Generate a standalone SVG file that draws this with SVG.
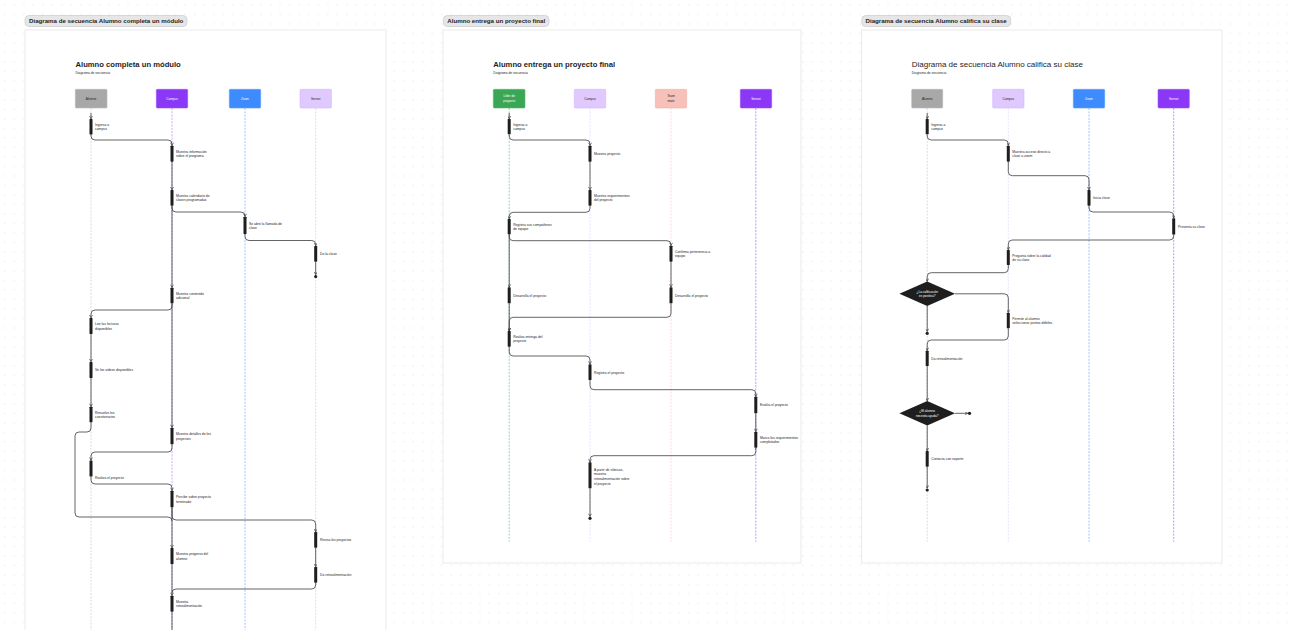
<svg xmlns="http://www.w3.org/2000/svg" width="1293" height="630" viewBox="0 0 1293 630">
<style>
text{font-family:"Liberation Sans",Arial,sans-serif;fill:#1e1e1e}
.tab{font-size:6.15px;font-weight:bold}
.ttl{font-size:7.65px;font-weight:bold}
.ttr{font-size:8px}
.sub{font-size:3.3px}
.lbl{font-size:3.4px}
.pt{font-size:3.1px;text-anchor:middle}
.wt{fill:#ffffff}
.dt{font-size:3.1px;text-anchor:middle;fill:#ffffff}
.bar{fill:#1e1e1e}
.cn{fill:none;stroke:#3d3d3d;stroke-width:0.8;marker-end:url(#ah)}
.cn0{fill:none;stroke:#3d3d3d;stroke-width:0.8}
.ll{fill:none;stroke-width:0.75;stroke-dasharray:2 1.3}
.frame{fill:#ffffff;stroke:#e6e6e6;stroke-width:0.8}
.tabr{fill:#e6e6e6;stroke:#c4c4c4;stroke-width:0.6}
.box{stroke-width:0.6}
.dot{fill:#1e1e1e}
</style>
<defs>
<pattern id="grid" width="9.5" height="9.5" patternUnits="userSpaceOnUse">
<circle cx="4.75" cy="4.75" r="0.55" fill="#d4d4d4"/>
</pattern>
<marker id="ah" viewBox="0 0 6 6" refX="5.5" refY="3" markerWidth="3.4" markerHeight="3.4" orient="auto" markerUnits="userSpaceOnUse">
<path d="M0.6 0.4 L5.5 3 L0.6 5.6" fill="none" stroke="#333" stroke-width="1.1"/>
</marker>
</defs>
<rect width="1293" height="630" fill="#ffffff"/>
<rect width="1293" height="630" fill="url(#grid)"/>

<!-- ===== Frame 1 ===== -->
<g id="frame1">
<rect class="frame" x="25" y="30" width="361" height="620"/>
<rect class="tabr" x="25" y="15.5" width="162" height="11" rx="4"/>
<text class="tab" x="29" y="23.3">Diagrama de secuencia Alumno completa un módulo</text>
<text class="ttl" x="75.5" y="66.6">Alumno completa un módulo</text>
<text class="sub" x="75.5" y="73.6">Diagrama de secuencia</text>
</g>
<g id="f1-lifelines">
<line class="ll" x1="91" y1="108" x2="91" y2="630" stroke="#cfcfcf"/>
<line class="ll" x1="172" y1="108" x2="172" y2="630" stroke="#b98cff"/>
<line class="ll" x1="245" y1="108" x2="245" y2="630" stroke="#7fb0ff"/>
<line class="ll" x1="315.7" y1="108" x2="315.7" y2="630" stroke="#dcc8ff"/>
</g>
<g id="f1-connectors">
<path class="cn" d="M91 113 V118.8"/>
<path class="cn" d="M91 134.5 V136 Q91 140 95 140 H168 Q172 140 172 144 V145.5"/>
<path class="cn" d="M172 161.7 V189.8"/>
<path class="cn" d="M172 205.7 V208 Q172 212 176 212 H241 Q245 212 245 216 V216.5"/>
<path class="cn" d="M245 234 V236.5 Q245 240.5 249 240.5 H311.7 Q315.7 240.5 315.7 244.5 V245.8"/>
<path class="cn" d="M315.7 261.7 V274.7"/>
<path class="cn" d="M172 205.7 V287.5"/>
<path class="cn" d="M172 303.3 V306 Q172 310 168 310 H95 Q91 310 91 314 V317.8"/>
<path class="cn" d="M91 334 V361.8"/>
<path class="cn" d="M91 378 V406.5"/>
<path class="cn0" d="M91 422.3 V428 Q91 432 87 432 H79 Q75 432 75 436 V513 Q75 517 79 517 H168 Q172 517 172 521"/>
<path class="cn" d="M172 303.3 V427.5"/>
<path class="cn" d="M172 444.3 V448 Q172 452 168 452 H95 Q91 452 91 456 V460.3"/>
<path class="cn" d="M91 476.5 V480 Q91 484 95 484 H168 Q172 484 172 488 V490.5"/>
<path class="cn" d="M172 507.3 V516 Q172 520 176 520 H311.7 Q315.7 520 315.7 524 V531.8"/>
<path class="cn" d="M172 507.3 V547.8"/>
<path class="cn" d="M315.7 547.7 V566.8"/>
<path class="cn" d="M315.7 582.7 V585 Q315.7 589 311.7 589 H176 Q172 589 172 593 V595.5"/>
<path class="cn0" d="M172 564 V593"/>
<path class="cn0" d="M172 611.7 V632"/>
</g>
<g id="f1-alumno"><rect class="box" x="75.3" y="89.3" width="31.7" height="18.7" rx="1" fill="#a8a8a8" stroke="#b8b8b8"/><text class="pt" x="91.1" y="99.8">Alumno</text></g>
<g id="f1-campus"><rect class="box" x="156.3" y="89.3" width="31.4" height="18.7" rx="1" fill="#8a38f5" stroke="#9a55f7"/><text class="pt wt" x="172" y="99.8">Campus</text></g>
<g id="f1-zoom"><rect class="box" x="229.3" y="89.3" width="31.4" height="18.7" rx="1" fill="#3d8bfd" stroke="#5a9dfd"/><text class="pt wt" x="245" y="99.8">Zoom</text></g>
<g id="f1-sensei"><rect class="box" x="300" y="89.3" width="31.4" height="18.7" rx="1" fill="#e0c9ff" stroke="#d2b5ff"/><text class="pt" x="315.7" y="99.8">Sensei</text></g>
<g id="f1-a1"><rect class="bar" x="89.5" y="119" width="3" height="15.5" rx="0.6"/><text class="lbl" x="95" y="125.9">Ingresa a</text><text class="lbl" x="95" y="130.2">campus</text></g>
<g id="f1-a2"><rect class="bar" x="170.5" y="145.7" width="3" height="16" rx="0.6"/><text class="lbl" x="176" y="152.9">Muestra información</text><text class="lbl" x="176" y="157.2">sobre el programa</text></g>
<g id="f1-a3"><rect class="bar" x="170.5" y="190" width="3" height="15.7" rx="0.6"/><text class="lbl" x="176" y="197">Muestra calendario de</text><text class="lbl" x="176" y="201.3">clases programadas</text></g>
<g id="f1-a4"><rect class="bar" x="243.5" y="216.7" width="3" height="17.3" rx="0.6"/><text class="lbl" x="249" y="224.5">Se abre la llamada de</text><text class="lbl" x="249" y="228.8">clase</text></g>
<g id="f1-a5"><rect class="bar" x="314.2" y="246" width="3" height="15.7" rx="0.6"/><text class="lbl" x="320" y="255">Da la clase</text></g>
<g id="f1-end1"><circle class="dot" cx="315.7" cy="276.6" r="1.6"/></g>
<g id="f1-a6"><rect class="bar" x="170.5" y="287.7" width="3" height="15.6" rx="0.6"/><text class="lbl" x="176" y="294.7">Muestra contenido</text><text class="lbl" x="176" y="299">adicional</text></g>
<g id="f1-a7"><rect class="bar" x="89.5" y="318" width="3" height="16" rx="0.6"/><text class="lbl" x="95" y="325.2">Lee las lecturas</text><text class="lbl" x="95" y="329.5">disponibles</text></g>
<g id="f1-a8"><rect class="bar" x="89.5" y="362" width="3" height="16" rx="0.6"/><text class="lbl" x="95" y="371.2">Ve los videos disponibles</text></g>
<g id="f1-a9"><rect class="bar" x="89.5" y="406.7" width="3" height="15.6" rx="0.6"/><text class="lbl" x="95" y="413.7">Resuelve los</text><text class="lbl" x="95" y="418">cuestionarios</text></g>
<g id="f1-a10"><rect class="bar" x="170.5" y="427.7" width="3" height="16.6" rx="0.6"/><text class="lbl" x="176" y="435.2">Muestra detalles de los</text><text class="lbl" x="176" y="439.5">proyectos</text></g>
<g id="f1-a11"><rect class="bar" x="89.5" y="460.5" width="3" height="16" rx="0.6"/><text class="lbl" x="95" y="479.4">Realiza el proyecto</text></g>
<g id="f1-a12"><rect class="bar" x="170.5" y="490.7" width="3" height="16.6" rx="0.6"/><text class="lbl" x="176" y="498.2">Percibe sobre proyecto</text><text class="lbl" x="176" y="502.5">terminado</text></g>
<g id="f1-a13"><rect class="bar" x="170.5" y="548" width="3" height="16" rx="0.6"/><text class="lbl" x="176" y="555.2">Muestra progreso del</text><text class="lbl" x="176" y="559.5">alumno</text></g>
<g id="f1-a14"><rect class="bar" x="314.2" y="532" width="3" height="15.7" rx="0.6"/><text class="lbl" x="320" y="541">Revisa los proyectos</text></g>
<g id="f1-a15"><rect class="bar" x="314.2" y="567" width="3" height="15.7" rx="0.6"/><text class="lbl" x="320" y="576">Da retroalimentación</text></g>
<g id="f1-a16"><rect class="bar" x="170.5" y="595.7" width="3" height="16" rx="0.6"/><text class="lbl" x="176" y="602.9">Muestra</text><text class="lbl" x="176" y="607.2">retroalimentación</text></g>

<!-- ===== Frame 2 ===== -->
<g id="frame2">
<rect class="frame" x="443" y="30" width="358" height="533"/>
<rect class="tabr" x="443.3" y="15.5" width="105.7" height="11" rx="4"/>
<text class="tab" x="447.3" y="23.3">Alumno entrega un proyecto final</text>
<text class="ttl" x="493.3" y="66.6">Alumno entrega un proyecto final</text>
<text class="sub" x="493.3" y="73.6">Diagrama de secuencia</text>
</g>
<g id="f2-lifelines">
<line class="ll" x1="509.2" y1="108" x2="509.2" y2="541.7" stroke="#6fcf8a"/>
<line class="ll" x1="590" y1="108" x2="590" y2="541.7" stroke="#e6d6ff"/>
<line class="ll" x1="671" y1="108" x2="671" y2="541.7" stroke="#f9cfcf"/>
<line class="ll" x1="755.8" y1="108" x2="755.8" y2="541.7" stroke="#a970ff"/>
</g>
<g id="f2-connectors">
<path class="cn" d="M509.2 113 V118.8"/>
<path class="cn" d="M509.2 134.3 V136 Q509.2 140 513.2 140 H586 Q590 140 590 144 V145.5"/>
<path class="cn" d="M590 161.7 V189.8"/>
<path class="cn" d="M590 205.7 V208.3 Q590 212.3 586 212.3 H513.2 Q509.2 212.3 509.2 216.3 V218.8"/>
<path class="cn" d="M509.2 234.3 V236.7 Q509.2 240.7 513.2 240.7 H667 Q671 240.7 671 244.7 V245.5"/>
<path class="cn" d="M671 261.7 V287.1"/>
<path class="cn" d="M509.2 234.3 V287.1"/>
<path class="cn" d="M671 303.3 V313.3 Q671 317.3 667 317.3 H513.2 Q509.2 317.3 509.2 321.3 V330.8"/>
<path class="cn" d="M509.2 303.3 V330.8"/>
<path class="cn" d="M509.2 346.7 V352 Q509.2 356 513.2 356 H586 Q590 356 590 360 V364.1"/>
<path class="cn" d="M590 380 V385.7 Q590 389.7 594 389.7 H751.8 Q755.8 389.7 755.8 393.7 V396.5"/>
<path class="cn" d="M755.8 413.3 V431.5"/>
<path class="cn" d="M755.8 447.7 V451.7 Q755.8 455.7 751.8 455.7 H594 Q590 455.7 590 459.7 V462.1"/>
<path class="cn" d="M590 488.3 V516.5"/>
</g>
<g id="f2-lider"><rect class="box" x="493.3" y="89.3" width="31.7" height="18.7" rx="1" fill="#3aa757" stroke="#55b870"/><text class="pt wt" x="509.2" y="97.2">Líder de</text><text class="pt wt" x="509.2" y="102.1">proyecto</text></g>
<g id="f2-campus"><rect class="box" x="574.3" y="89.3" width="31.4" height="18.7" rx="1" fill="#e0c9ff" stroke="#d2b5ff"/><text class="pt" x="590" y="99.8">Campus</text></g>
<g id="f2-teammate"><rect class="box" x="655.3" y="89.3" width="31.4" height="18.7" rx="1" fill="#f7c1ba" stroke="#f3aea5"/><text class="pt" x="671" y="97.2">Team</text><text class="pt" x="671" y="102.1">mate</text></g>
<g id="f2-sensei"><rect class="box" x="740.3" y="89.3" width="31.4" height="18.7" rx="1" fill="#8a38f5" stroke="#9a55f7"/><text class="pt wt" x="756" y="99.8">Sensei</text></g>
<g id="f2-a1"><rect class="bar" x="507.7" y="119" width="3" height="15.3" rx="0.6"/><text class="lbl" x="513.2" y="125.9">Ingresa a</text><text class="lbl" x="513.2" y="130.2">campus</text></g>
<g id="f2-a2"><rect class="bar" x="588.5" y="145.7" width="3" height="16" rx="0.6"/><text class="lbl" x="594" y="154.9">Muestra proyecto</text></g>
<g id="f2-a3"><rect class="bar" x="588.5" y="190" width="3" height="15.7" rx="0.6"/><text class="lbl" x="594" y="197">Muestra requerimientos</text><text class="lbl" x="594" y="201.3">del proyecto</text></g>
<g id="f2-a4"><rect class="bar" x="507.7" y="219" width="3" height="15.3" rx="0.6"/><text class="lbl" x="513.2" y="225.9">Registra sus compañeros</text><text class="lbl" x="513.2" y="230.2">de equipo</text></g>
<g id="f2-a5"><rect class="bar" x="669.5" y="245.7" width="3" height="16" rx="0.6"/><text class="lbl" x="675" y="252.9">Confirma pertenencia a</text><text class="lbl" x="675" y="257.2">equipo</text></g>
<g id="f2-a6"><rect class="bar" x="669.5" y="287.3" width="3" height="16" rx="0.6"/><text class="lbl" x="675" y="296.5">Desarrolla el proyecto</text></g>
<g id="f2-a7"><rect class="bar" x="507.7" y="287.3" width="3" height="16" rx="0.6"/><text class="lbl" x="513.2" y="296.5">Desarrolla el proyecto</text></g>
<g id="f2-a8"><rect class="bar" x="507.7" y="331" width="3" height="15.7" rx="0.6"/><text class="lbl" x="513.2" y="338">Realiza entrega del</text><text class="lbl" x="513.2" y="342.3">proyecto</text></g>
<g id="f2-a9"><rect class="bar" x="588.5" y="364.3" width="3" height="15.7" rx="0.6"/><text class="lbl" x="594" y="373.6">Registra el proyecto</text></g>
<g id="f2-a10"><rect class="bar" x="754.3" y="396.7" width="3" height="16.6" rx="0.6"/><text class="lbl" x="760" y="406.2">Evalúa el proyecto</text></g>
<g id="f2-a11"><rect class="bar" x="754.3" y="431.7" width="3" height="16" rx="0.6"/><text class="lbl" x="760" y="438.9">Marca los requerimientos</text><text class="lbl" x="760" y="443.2">completados</text></g>
<g id="f2-a12"><rect class="bar" x="588.5" y="462.3" width="3" height="26" rx="0.6"/><text class="lbl" x="594" y="470.5">A partir de rúbricas,</text><text class="lbl" x="594" y="475.2">muestra</text><text class="lbl" x="594" y="479.9">retroalimentación sobre</text><text class="lbl" x="594" y="484.6">el proyecto</text></g>
<g id="f2-end"><circle class="dot" cx="590" cy="518.3" r="1.6"/></g>

<!-- ===== Frame 3 ===== -->
<g id="frame3">
<rect class="frame" x="861.5" y="30" width="360.5" height="533"/>
<rect class="tabr" x="861.7" y="15.5" width="149" height="11" rx="4"/>
<text class="tab" x="865.5" y="23.3">Diagrama de secuencia Alumno califica su clase</text>
<text class="ttr" x="911.7" y="66.8">Diagrama de secuencia Alumno califica su clase</text>
<text class="sub" x="911.7" y="73.6">Diagrama de secuencia</text>
</g>
<g id="f3-lifelines">
<line class="ll" x1="927.2" y1="108" x2="927.2" y2="541.7" stroke="#cfcfcf"/>
<line class="ll" x1="1008.3" y1="108" x2="1008.3" y2="541.7" stroke="#e6d6ff"/>
<line class="ll" x1="1089" y1="108" x2="1089" y2="541.7" stroke="#7fb0ff"/>
<line class="ll" x1="1173.7" y1="108" x2="1173.7" y2="541.7" stroke="#a970ff"/>
</g>
<g id="f3-connectors">
<path class="cn" d="M927.2 113 V118.8"/>
<path class="cn" d="M927.2 134.3 V136 Q927.2 140 931.2 140 H1004.3 Q1008.3 140 1008.3 144 V145.5"/>
<path class="cn" d="M1008.3 161.7 V171.7 Q1008.3 175.7 1012.3 175.7 H1085 Q1089 175.7 1089 179.7 V189.8"/>
<path class="cn" d="M1089 205.7 V208 Q1089 212 1093 212 H1169.7 Q1173.7 212 1173.7 216 V218.1"/>
<path class="cn" d="M1173.7 234.5 V236 Q1173.7 240 1169.7 240 H1012.3 Q1008.3 240 1008.3 244 V249.8"/>
<path class="cn" d="M1008.3 265 V268.7 Q1008.3 272.7 1004.3 272.7 H931.2 Q927.2 272.7 927.2 276.7 V281.4"/>
<path class="cn" d="M955 293.8 H1004.3 Q1008.3 293.8 1008.3 297.8 V312.5"/>
<path class="cn" d="M927.2 306 V331.5"/>
<path class="cn" d="M1008.3 328.3 V336 Q1008.3 340 1004.3 340 H931.2 Q927.2 340 927.2 344 V350.5"/>
<path class="cn" d="M927.2 366 V400.8"/>
<path class="cn" d="M955 413.3 H967.7"/>
<path class="cn" d="M927.2 425.6 V450.8"/>
<path class="cn" d="M927.2 466.7 V488.2"/>
</g>
<g id="f3-alumno"><rect class="box" x="911.7" y="89.3" width="31" height="18.7" rx="1" fill="#a8a8a8" stroke="#b8b8b8"/><text class="pt" x="927.2" y="99.8">Alumno</text></g>
<g id="f3-campus"><rect class="box" x="992.7" y="89.3" width="31.3" height="18.7" rx="1" fill="#e0c9ff" stroke="#d2b5ff"/><text class="pt" x="1008.3" y="99.8">Campus</text></g>
<g id="f3-zoom"><rect class="box" x="1073.3" y="89.3" width="31.4" height="18.7" rx="1" fill="#3d8bfd" stroke="#5a9dfd"/><text class="pt wt" x="1089" y="99.8">Zoom</text></g>
<g id="f3-sensei"><rect class="box" x="1158" y="89.3" width="31.3" height="18.7" rx="1" fill="#8a38f5" stroke="#9a55f7"/><text class="pt wt" x="1173.7" y="99.8">Sensei</text></g>
<g id="f3-a1"><rect class="bar" x="925.7" y="119" width="3" height="15.3" rx="0.6"/><text class="lbl" x="931.2" y="125.9">Ingresa a</text><text class="lbl" x="931.2" y="130.2">campus</text></g>
<g id="f3-a2"><rect class="bar" x="1006.8" y="145.7" width="3" height="16" rx="0.6"/><text class="lbl" x="1012.3" y="152.9">Muestra acceso directo a</text><text class="lbl" x="1012.3" y="157.2">clase a zoom</text></g>
<g id="f3-a3"><rect class="bar" x="1087.5" y="190" width="3" height="15.7" rx="0.6"/><text class="lbl" x="1093" y="199">Inicia clase</text></g>
<g id="f3-a4"><rect class="bar" x="1172.2" y="218.3" width="3" height="16.2" rx="0.6"/><text class="lbl" x="1178" y="227.6">Presenta su clase</text></g>
<g id="f3-a5"><rect class="bar" x="1006.8" y="250" width="3" height="15" rx="0.6"/><text class="lbl" x="1012.3" y="256.7">Pregunta sobre la calidad</text><text class="lbl" x="1012.3" y="261">de su clase</text></g>
<g id="f3-d1"><path d="M927.2 281.6 L955 293.8 L927.2 306 L899.4 293.8 Z" fill="#1e1e1e"/><text class="dt" x="927.2" y="292.6">¿La calificación</text><text class="dt" x="927.2" y="297">es positiva?</text></g>
<g id="f3-a6"><rect class="bar" x="1006.8" y="312.7" width="3" height="15.6" rx="0.6"/><text class="lbl" x="1012.3" y="319.7">Permite al alumno</text><text class="lbl" x="1012.3" y="324">seleccionar puntos débiles</text></g>
<g id="f3-end1"><circle class="dot" cx="927.2" cy="333.3" r="1.6"/></g>
<g id="f3-a7"><rect class="bar" x="925.7" y="350.7" width="3" height="15.3" rx="0.6"/><text class="lbl" x="931.2" y="359.5">Da retroalimentación</text></g>
<g id="f3-d2"><path d="M927.2 401 L955 413.3 L927.2 425.6 L899.4 413.3 Z" fill="#1e1e1e"/><text class="dt" x="927.2" y="412">¿El alumno</text><text class="dt" x="927.2" y="416.7">necesita ayuda?</text></g>
<g id="f3-end2"><circle class="dot" cx="969.5" cy="413.3" r="1.6"/></g>
<g id="f3-a8"><rect class="bar" x="925.7" y="451" width="3" height="15.7" rx="0.6"/><text class="lbl" x="931.2" y="460">Contacta con soporte</text></g>
<g id="f3-end3"><circle class="dot" cx="927.2" cy="490" r="1.6"/></g>
</svg>
